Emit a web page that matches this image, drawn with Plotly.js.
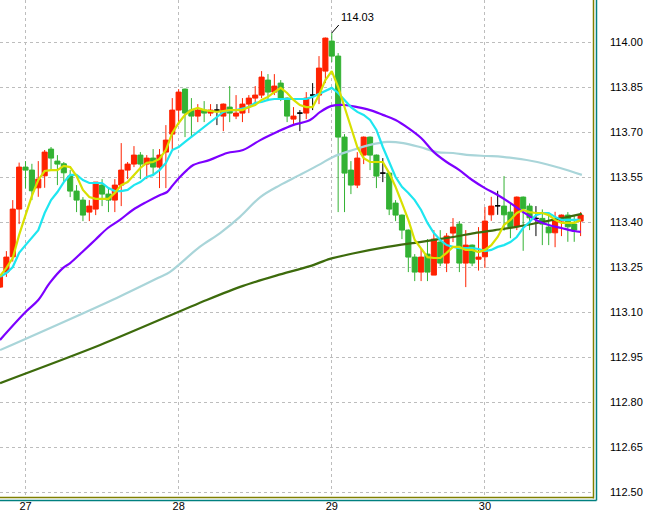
<!DOCTYPE html>
<html>
<head>
<meta charset="utf-8">
<script src="https://cdn.plot.ly/plotly-3.0.1.min.js"></script>
<style>html,body{margin:0;padding:0;background:#fff;}#chart{width:652px;height:512px;}</style>
</head>
<body>
<div id="chart"></div>
<script>
// hour index relative to day 27, 00:00
const hours = [-4,-3,-2,-1,0,1,2,3,4,5,6,7,8,9,10,11,12,13,14,15,16,17,18,19,20,21,22,23,24,25,26,27,28,29,30,31,32,33,34,35,36,37,38,39,40,41,42,43,44,45,46,47,48,49,50,51,52,53,54,55,56,57,58,59,60,61,62,63,64,65,66,67,68,69,70,71,72,73,74,75,76,77,78,79,80,81,82,83,84,85,86,87];
const opens = [113.183,113.233,113.284,113.443,113.583,113.573,113.514,113.554,113.643,113.603,113.594,113.553,113.503,113.473,113.433,113.443,113.523,113.493,113.473,113.523,113.573,113.593,113.623,113.593,113.613,113.583,113.633,113.693,113.773,113.843,113.773,113.753,113.773,113.763,113.773,113.753,113.783,113.753,113.763,113.793,113.813,113.823,113.873,113.833,113.863,113.813,113.743,113.763,113.763,113.823,113.823,113.903,114.003,113.953,113.683,113.573,113.523,113.623,113.683,113.623,113.563,113.563,113.463,113.423,113.373,113.283,113.233,113.293,113.223,113.333,113.263,113.363,113.393,113.263,113.323,113.276,113.284,113.424,113.454,113.453,113.433,113.384,113.483,113.453,113.412,113.412,113.383,113.364,113.403,113.423,113.393,113.403];
const highs = [113.225,113.303,113.473,113.598,113.603,113.594,113.603,113.640,113.650,113.623,113.600,113.573,113.523,113.483,113.473,113.533,113.543,113.513,113.543,113.663,113.600,113.653,113.633,113.623,113.643,113.643,113.723,113.813,113.843,113.845,113.813,113.793,113.803,113.793,113.793,113.795,113.853,113.823,113.813,113.823,113.853,113.903,113.893,113.893,113.873,113.815,113.783,113.773,113.833,113.863,113.953,114.015,114.030,113.963,113.693,113.603,113.633,113.685,113.685,113.625,113.613,113.565,113.473,113.425,113.375,113.293,113.313,113.343,113.373,113.373,113.363,113.413,113.403,113.373,113.325,113.383,113.450,113.484,113.504,113.553,113.462,113.485,113.485,113.462,113.453,113.442,113.423,113.434,113.425,113.433,113.423,113.433];
const lows = [113.180,113.217,113.268,113.393,113.512,113.473,113.484,113.514,113.573,113.523,113.534,113.483,113.433,113.403,113.403,113.423,113.453,113.433,113.433,113.453,113.543,113.583,113.543,113.543,113.553,113.513,113.513,113.643,113.723,113.683,113.683,113.733,113.733,113.753,113.723,113.703,113.733,113.743,113.733,113.763,113.793,113.813,113.803,113.823,113.803,113.733,113.723,113.703,113.743,113.773,113.793,113.863,113.933,113.433,113.433,113.493,113.513,113.593,113.573,113.513,113.533,113.423,113.403,113.343,113.233,113.203,113.203,113.203,113.223,113.253,113.233,113.333,113.233,113.183,113.253,113.238,113.247,113.404,113.424,113.371,113.346,113.373,113.304,113.373,113.353,113.323,113.323,113.316,113.353,113.334,113.334,113.353];
const closes = [113.223,113.283,113.443,113.583,113.573,113.504,113.543,113.633,113.613,113.593,113.564,113.503,113.473,113.423,113.453,113.533,113.493,113.473,113.523,113.573,113.593,113.623,113.593,113.613,113.583,113.623,113.673,113.773,113.833,113.763,113.753,113.773,113.763,113.773,113.773,113.793,113.763,113.763,113.793,113.813,113.823,113.883,113.833,113.853,113.813,113.753,113.753,113.763,113.813,113.823,113.913,114.013,113.953,113.683,113.563,113.523,113.613,113.683,113.623,113.553,113.563,113.443,113.423,113.373,113.283,113.233,113.283,113.233,113.343,113.263,113.353,113.383,113.263,113.323,113.263,113.283,113.403,113.453,113.454,113.424,113.384,113.483,113.444,113.414,113.412,113.393,113.364,113.403,113.423,113.384,113.373,113.423];

// short moving averages, one value per hour
const maYellow = [113.220,113.247,113.280,113.357,113.423,113.487,113.540,113.570,113.573,113.573,113.587,113.583,113.553,113.507,113.483,113.477,113.477,113.477,113.497,113.523,113.533,113.557,113.580,113.597,113.600,113.610,113.640,113.697,113.730,113.757,113.773,113.780,113.773,113.770,113.767,113.770,113.773,113.773,113.773,113.783,113.790,113.807,113.817,113.833,113.847,113.830,113.807,113.790,113.783,113.783,113.823,113.873,113.903,113.850,113.783,113.717,113.650,113.613,113.600,113.600,113.600,113.563,113.517,113.463,113.407,113.340,113.313,113.283,113.280,113.280,113.297,113.317,113.317,113.307,113.307,113.300,113.307,113.323,113.350,113.390,113.407,113.430,113.440,113.433,113.430,113.430,113.423,113.407,113.397,113.397,113.397,113.407];
const maCyan = [113.217,113.230,113.250,113.297,113.323,113.347,113.373,113.430,113.473,113.500,113.533,113.557,113.557,113.540,113.530,113.530,113.530,113.513,113.503,113.503,113.507,113.523,113.533,113.550,113.557,113.573,113.597,113.640,113.650,113.667,113.683,113.700,113.717,113.733,113.750,113.767,113.773,113.773,113.777,113.783,113.797,113.800,113.807,113.810,113.810,113.810,113.810,113.810,113.810,113.817,113.827,113.837,113.847,113.830,113.807,113.783,113.767,113.757,113.740,113.707,113.650,113.597,113.550,113.517,113.497,113.473,113.440,113.397,113.363,113.340,113.323,113.317,113.313,113.313,113.313,113.310,113.303,113.307,113.317,113.323,113.333,113.350,113.380,113.400,113.423,113.430,113.430,113.417,113.407,113.407,113.407,113.407];

// longer moving averages, read at sampled hours
const purpleHours = [-4,0,2,3.8,5.9,7,8.9,10.9,12.9,14.8,16.8,19,21.1,22.2,23.1,24.2,25.3,26.3,28.9,31.6,34.1,36.8,39.4,41.9,44.6,46.2,48,50,52,54,56,58,60,62,64,66,68,70,72,74,76,78,80,82,84,86,87];
const maPurple = [113.007,113.100,113.140,113.197,113.247,113.263,113.300,113.340,113.380,113.407,113.440,113.467,113.490,113.500,113.523,113.550,113.573,113.590,113.607,113.630,113.640,113.673,113.700,113.723,113.740,113.767,113.787,113.790,113.783,113.773,113.757,113.740,113.713,113.680,113.633,113.600,113.573,113.540,113.513,113.490,113.463,113.433,113.407,113.390,113.380,113.370,113.367];
const lightHours = [-4,14.3,21.1,22.6,27.3,30.5,33.6,36.8,39.9,43.0,46.2,48.2,51.3,54.0,56.7,59.2,61.8,64.5,67.0,69.7,72.3,74.8,80.2,83.8,87.2];
const maLight = [112.973,113.147,113.217,113.233,113.317,113.363,113.417,113.483,113.523,113.557,113.593,113.617,113.640,113.657,113.667,113.663,113.650,113.633,113.630,113.623,113.620,113.617,113.600,113.580,113.557];
const oliveHours = [-4,11.7,28.4,34.1,39.4,44.6,47.7,51.3,56.7,61.8,67.0,70.4,73.6,76.7,81.0,84.1,87.2];
const maOlive = [112.863,112.990,113.140,113.187,113.222,113.253,113.277,113.295,113.317,113.333,113.350,113.363,113.373,113.383,113.400,113.413,113.427];

const dayHours = [0,24,48,72];
const dayLabels = ['27','28','29','30'];
const priceTicks = [112.50,112.65,112.80,112.95,113.10,113.25,113.40,113.55,113.70,113.85,114.00];
const priceLabels = ['112.50','112.65','112.80','112.95','113.10','113.25','113.40','113.55','113.70','113.85','114.00'];
const peakHour = 48, peakPrice = 114.03, peakLabel = '114.03';

// split candles into normal and doji (open == close)
const n = {x:[],o:[],h:[],l:[],c:[]}, d = {x:[],o:[],h:[],l:[],c:[]};
hours.forEach((t,i)=>{
  const tgt = (opens[i] === closes[i]) ? d : n;
  tgt.x.push(t); tgt.o.push(opens[i]); tgt.h.push(highs[i]); tgt.l.push(lows[i]); tgt.c.push(closes[i]);
});

const RED='#ff2200', GREEN='#33b233';
const traces = [
  {type:'candlestick', x:n.x, open:n.o, high:n.h, low:n.l, close:n.c, hoverinfo:'skip',
   increasing:{line:{color:RED,width:1}, fillcolor:RED},
   decreasing:{line:{color:GREEN,width:1}, fillcolor:GREEN}, whiskerwidth:0},
  {type:'candlestick', x:d.x, open:d.o, high:d.h, low:d.l, close:d.c, hoverinfo:'skip',
   increasing:{line:{color:'#000',width:1}, fillcolor:'#000'},
   decreasing:{line:{color:'#000',width:1}, fillcolor:'#000'}, whiskerwidth:0},
  {type:'scatter', mode:'lines', x:oliveHours, y:maOlive, line:{color:'#3d6b0c',width:2.2, shape:'spline', smoothing:0.8}, hoverinfo:'skip'},
  {type:'scatter', mode:'lines', x:lightHours, y:maLight, line:{color:'#a9d5d9',width:2.2, shape:'spline'}, hoverinfo:'skip'},
  {type:'scatter', mode:'lines', x:purpleHours, y:maPurple, line:{color:'#7d00ff',width:2.2, shape:'spline'}, hoverinfo:'skip'},
  {type:'scatter', mode:'lines', x:hours, y:maCyan, line:{color:'#1ee6f0',width:2.2}, hoverinfo:'skip'},
  {type:'scatter', mode:'lines', x:hours, y:maYellow, line:{color:'#d8e000',width:2.2}, hoverinfo:'skip'}
];

const font = {family:'Liberation Sans, Arial, sans-serif', size:11, color:'#000'};
const layout = {
  width:652, height:512,
  margin:{l:0, r:58, t:0, b:14, pad:0},
  paper_bgcolor:'#ffffff', plot_bgcolor:'#ffffff',
  showlegend:false,
  boxgap:0.2, boxgroupgap:0,
  font:font,
  xaxis:{type:'linear', range:[-4.0, 89.1], tickmode:'array', tickvals:dayHours, ticktext:dayLabels,
    showgrid:true, gridcolor:'#bdbdbd', gridwidth:1, griddash:'3px,3px', zeroline:false, showline:false,
    ticks:'', tickfont:font, rangeslider:{visible:false}, fixedrange:true},
  yaxis:{side:'right', range:[112.48, 114.14], tickmode:'array', tickvals:priceTicks, ticktext:priceLabels,
    showgrid:true, gridcolor:'#bdbdbd', gridwidth:1, griddash:'3px,3px', zeroline:false, showline:false,
    ticks:'', tickfont:font, ticklabelstandoff:15, fixedrange:true},
  shapes:[
    {type:'line', xref:'paper', yref:'paper', x0:593.5/594, x1:593.5/594, y0:-0.5/498, y1:1, line:{color:'#808000',width:1.5}},
    {type:'line', xref:'paper', yref:'paper', x0:596.5/594, x1:596.5/594, y0:-2.5/498, y1:1, line:{color:'#008080',width:1.5}},
    {type:'line', xref:'paper', yref:'paper', x0:0, x1:593.5/594, y0:0.5/498, y1:0.5/498, line:{color:'#808000',width:1.5}},
    {type:'line', xref:'paper', yref:'paper', x0:0, x1:596.5/594, y0:-2.5/498, y1:-2.5/498, line:{color:'#008080',width:1.5}}
  ],
  annotations:[
    {x:peakHour, y:peakPrice, xref:'x', yref:'y', text:peakLabel, showarrow:true, arrowhead:0, arrowwidth:1,
     arrowcolor:'#000', ax:7, ay:-8, xanchor:'left', yanchor:'bottom', font:font}
  ]
};

Plotly.newPlot('chart', traces, layout, {staticPlot:true, displayModeBar:false});
</script>
</body>
</html>
